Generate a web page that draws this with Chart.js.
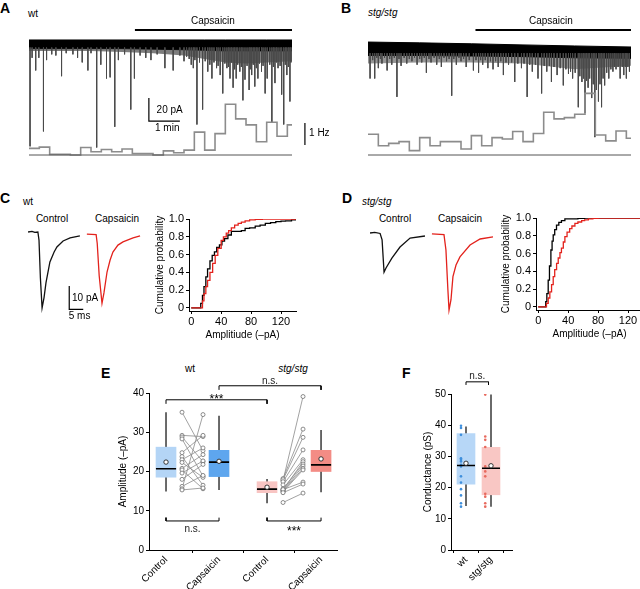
<!DOCTYPE html>
<html><head><meta charset="utf-8">
<script src="https://cdn.jsdelivr.net/npm/chart.js@4.4.1/dist/chart.umd.min.js"></script>
<style>
html,body{margin:0;padding:0;background:#fff;}
#fig{position:relative;width:640px;height:589px;overflow:hidden;background:#fff;font-family:"Liberation Sans",Arial,Helvetica,sans-serif;}
.t{position:absolute;white-space:nowrap;color:#000;font-size:10px;line-height:1;}
.L{font-weight:bold;font-size:14px;}
.cx{width:100px;text-align:center;}
.i{font-style:italic;}
</style></head><body><div id="fig">
<div class="t L" style="left:0px;top:1px">A</div>
<div class="t" style="left:28px;top:9px">wt</div>
<div class="t L" style="left:341px;top:1px">B</div>
<div class="t i" style="left:368px;top:8px">stg/stg</div>
<div class="t L" style="left:0px;top:191px">C</div>
<div class="t" style="left:23px;top:197px">wt</div>
<div class="t L" style="left:342px;top:191px">D</div>
<div class="t i" style="left:362px;top:197px">stg/stg</div>
<div class="t cx" style="left:2px;top:214px">Control</div>
<div class="t cx" style="left:67px;top:214px">Capsaicin</div>
<div class="t cx" style="left:345px;top:214px">Control</div>
<div class="t cx" style="left:410px;top:214px">Capsaicin</div>
<div class="t L" style="left:101px;top:366px">E</div>
<div class="t cx" style="left:140px;top:364px">wt</div>
<div class="t cx i" style="left:243px;top:364px">stg/stg</div>
<div class="t L" style="left:402px;top:366px">F</div>
</div>
<script>
// ================= DATA =================
// Panel A / B: event frequency in 20-s bins (Hz)
const RATE_BIN_START_S = [0,20,40,60,80,100,120,140,160,180,200,220,240,260,280,300,320,340,360,380,400,420,440,460,480,500];
const A_RATE_HZ = [0.30,0.36,0.03,0.03,0.0,0.34,0.15,0.25,0.15,0.27,0.07,0.07,0.0,0.19,0.10,0.22,1.04,0.22,0.97,2.31,1.64,1.37,0.60,1.49,0.85,1.37];
const B_RATE_HZ = [0.94,0.42,0.53,0.61,0.20,0.79,0.42,0.61,0.61,0.27,0.88,0.42,0.79,0.73,1.07,0.61,0.98,1.94,1.64,1.70,1.85,2.80,0.91,0.64,1.09,0.76];
const RECORD_END_S = 509;
const A_CAPS_START_S = 205;
const B_CAPS_START_S = 208;
// Panel A / B: events [time s, amplitude pA]
const A_EVENTS = [[2,89],[6,12],[13,23],[19,12],[28,76],[34,14],[44,9],[52,10],[63,28],[72,8],[85,9],[94,12],[103,16],[114,23],[120,8],[131,90],[139,18],[150,30],[157,29],[166,72],[173,14],[185,9],[197,57],[204,30],[215,10],[226,12],[236,14],[248,9],[263,21],[279,23],[292,10],[300,15],[305,11],[310,13],[314,18],[318,21],[321,14],[325,70],[330,16],[336,57],[341,15],[346,24],[350,18],[354,30],[358,16],[363,21],[366,19],[370,27],[375,43],[379,17],[383,21],[386,20],[389,30],[392,16],[395,38],[398,22],[401,30],[404,18],[408,24],[411,20],[414,49],[418,31],[422,19],[426,40],[428,22],[431,27],[434,18],[437,37],[440,21],[443,30],[446,17],[450,24],[453,19],[457,43],[461,30],[466,18],[470,68],[473,20],[476,34],[479,16],[482,21],[486,19],[489,44],[493,70],[496,18],[499,27],[502,20],[505,50],[507,16]];
const B_EVENTS = [[4,30],[9,14],[13,30],[17,12],[20,21],[24,13],[27,17],[32,12],[37,23],[42,13],[46,18],[51,12],[56,46],[60,13],[64,19],[70,12],[75,17],[80,13],[85,15],[90,12],[95,18],[100,13],[104,16],[109,12],[113,25],[118,13],[122,16],[128,12],[133,18],[138,13],[142,20],[147,12],[152,15],[157,13],[162,45],[166,13],[171,18],[176,12],[180,15],[185,13],[190,20],[196,14],[204,23],[209,14],[214,25],[218,14],[222,18],[227,14],[232,21],[237,15],[242,22],[247,15],[252,20],[257,15],[262,27],[267,16],[272,18],[278,16],[284,33],[290,17],[297,21],[302,17],[308,46],[313,18],[318,24],[324,18],[329,30],[336,43],[341,19],[346,24],[351,19],[355,33],[360,20],[366,27],[372,21],[378,36],[383,22],[388,26],[392,24],[396,30],[401,25],[407,55],[410,28],[414,33],[417,30],[420,60],[423,32],[426,38],[429,30],[433,47],[436,35],[439,81],[442,40],[446,50],[449,35],[452,55],[455,30],[458,36],[462,25],[466,30],[470,22],[474,24],[477,20],[480,22],[484,20],[488,30],[492,20],[495,27],[498,20],[500,30],[503,20],[506,24]];
// Noise band envelopes (pA)
const A_BAND_T = [0,60,120,180,240,300,340,380,420,460,509];
const A_BAND_TOP = [3.5,3.5,3.5,3.5,3.5,3.5,3.5,3.5,3.5,3.5,3.5];
const A_BAND_BOT = [-4,-4,-4,-4,-4.5,-5,-5.5,-6,-6,-6,-6];
const A_DENSE_BOT = [-6,-6,-6,-7,-8,-10,-13,-16,-17,-16,-15];
const B_BAND_T = [0,100,200,300,400,509];
const B_BAND_TOP = [1.7,1.0,0.2,-0.8,-1.7,-2.6];
const B_BAND_BOT = [-10,-10,-10.5,-11,-12,-12.5];
const B_DENSE_BOT = [-17,-16,-16,-17,-22,-19];
// Panel C / D: average EPSCs [ms, pA]
const C_CTRL_TRACE = [[1.1,0],[2.5,0.3],[3.5,-0.2],[4.6,0],[5.0,-3.5],[5.5,-20],[6.1,-33],[6.8,-28.5],[7.5,-22],[8.9,-13],[10.4,-8.7],[11.4,-6.5],[13.6,-3.9],[16.1,-2.6],[19.6,-1.7]];
const C_CAPS_TRACE = [[22.1,-0.9],[25.4,-1.1],[25.8,-5],[26.5,-19],[27.5,-31],[28.2,-26.5],[29.3,-17.4],[30.4,-12.2],[31.4,-8.7],[33.2,-5.7],[35,-4.3],[38.6,-2.6],[41.1,-1.7]];
const D_CTRL_TRACE = [[1.8,0],[3.5,0.3],[5.4,-0.2],[6.1,-3],[6.8,-17],[7.5,-15.2],[9.6,-10.9],[12.5,-6.1],[16.1,-2.2],[21.4,-1.3]];
const D_CAPS_TRACE = [[23.9,-0.4],[28.2,-0.7],[28.9,-7.4],[29.6,-24.8],[30,-33.5],[30.7,-29],[31.4,-19],[32.5,-13.9],[33.9,-10.4],[37.5,-5.2],[41.1,-2.6],[45.7,-1.7]];
// Cumulative distributions [amplitude -pA, probability]
const C_CTRL_CDF = [[0,0],[10.5,0],[12.7,0.05],[15,0.14],[17,0.24],[19.5,0.35],[21.8,0.44],[25,0.53],[28,0.59],[31,0.63],[34,0.68],[37.7,0.71],[41,0.75],[44.5,0.78],[49,0.82],[53.6,0.86],[58,0.86],[67,0.87],[72,0.895],[78,0.9],[85.5,0.92],[92,0.93],[99,0.95],[106,0.96],[113,0.97],[120,0.975],[126,0.98],[134,0.99],[140,1.0]];
const C_CAPS_CDF = [[0,0],[12.7,0],[15,0.08],[17,0.16],[19.5,0.24],[21.8,0.31],[25,0.4],[28.6,0.5],[32,0.59],[35.5,0.67],[40,0.76],[43,0.8],[46.8,0.84],[50,0.87],[53.6,0.9],[58,0.93],[62.7,0.95],[67,0.965],[72,0.98],[78,0.99],[85.5,0.996],[95,1.0],[140,1.0]];
const D_CTRL_CDF = [[0,0],[8,0],[10,0.06],[11.5,0.15],[13.3,0.3],[15,0.46],[16.9,0.64],[18.5,0.74],[20,0.81],[22,0.87],[24.4,0.92],[27.5,0.95],[31,0.97],[35.6,0.99],[53,0.995],[62,1.0],[140,1.0]];
const D_CAPS_CDF = [[0,0],[8.9,0],[11,0.04],[13.3,0.1],[15.5,0.17],[17.8,0.25],[20,0.34],[22,0.42],[24.5,0.49],[26.7,0.55],[29,0.61],[31,0.66],[33.5,0.73],[35.6,0.79],[38.5,0.84],[42,0.88],[45,0.91],[49,0.94],[53,0.955],[58,0.97],[62,0.98],[67,0.99],[73,0.995],[80,1.0],[140,1.0]];
const CUM_X_TICKS = [0,40,80,120];
const CUM_Y_TICKS = [0,0.2,0.4,0.6,0.8,1.0];
// Panel E: amplitude (-pA) box statistics for wt Control, wt Capsaicin, stg Control, stg Capsaicin
const E_X_LABELS = ['Control','Capsaicin','Control','Capsaicin'];
const E_WHISK_LO = [14.9,15.3,11.9,14.7];
const E_Q1 = [18.55,18.7,14.6,20.0];
const E_MEDIAN = [20.7,22.4,15.5,21.7];
const E_MEAN = [22.4,22.6,16.0,23.2];
const E_Q3 = [26.2,25.4,17.4,25.4];
const E_WHISK_HI = [35.1,34.2,18.1,30.6];
const E_WT_CTRL = [35.1,29.2,28.8,28.3,24.8,23.8,23.0,22.3,20.8,20.4,19.6,18.0,16.2,15.6,15.3];
const E_WT_CAPS = [25.3,28.9,22.5,18.8,29.2,16.5,26.0,18.5,24.3,15.6,22.7,21.8,19.0,34.5,15.8];
const E_STG_CTRL = [17.7,18.2,17.9,17.4,16.6,15.3,15.6,15.2,15.0,14.8,15.4,14.6,12.1];
const E_STG_CAPS = [39.1,30.8,28.7,25.5,23.0,22.5,21.9,21.4,20.8,20.4,17.3,16.8,14.5];
const E_Y_TICKS = [0,10,20,30,40];
// Panel F: conductance (pS)
const F_X_LABELS = ['wt','stg/stg'];
const F_WHISK_LO = [14.1,13.9];
const F_Q1 = [21.1,17.7];
const F_MEDIAN = [27.1,26.2];
const F_MEAN = [27.8,27.0];
const F_Q3 = [37.3,32.9];
const F_WHISK_HI = [39.6,49.8];
const F_WT_POINTS = [39.8,39.1,36.9,29.4,28.9,28.4,27.3,26.8,23.6,21.6,19.5,17.5,15.0,13.9];
const F_STG_POINTS = [49.8,36.4,35.3,33.0,26.8,25.2,23.6,18.0,17.1,15.0,13.9];
const F_Y_TICKS = [0,10,20,30,40,50];

// ================= LAYOUT / STYLE =================
const FONT = '"Liberation Sans", Arial, Helvetica, sans-serif';
Chart.defaults.font.family = FONT;
Chart.defaults.font.size = 10;
Chart.defaults.color = '#000';
Chart.defaults.animation = false;
Chart.defaults.responsive = false;
Chart.defaults.plugins.legend.display = false;
Chart.defaults.plugins.tooltip.enabled = false;

function mkCanvas(left, top, w, h){
  const c = document.createElement('canvas');
  c.width = w; c.height = h;
  c.style.cssText = 'position:absolute;left:'+left+'px;top:'+top+'px;width:'+w+'px;height:'+h+'px;';
  document.getElementById('fig').appendChild(c);
  return c;
}
function mkText(items){
  return { id:'txt', afterDatasetsDraw(chart){
    const ctx = chart.ctx;
    items.forEach(it=>{
      const xs = chart.scales[it.xa||'x'], ys = chart.scales[it.ya||'y'];
      ctx.save();
      ctx.font = (it.style||'') + ' ' + (it.size||10) + 'px ' + FONT;
      ctx.fillStyle = it.color||'#000';
      ctx.textAlign = it.align||'center';
      ctx.textBaseline = 'alphabetic';
      ctx.fillText(it.t, xs.getPixelForValue(it.x), ys.getPixelForValue(it.y));
      ctx.restore();
    });
  }};
}
function pts(arr){ return arr.map(p=>({x:p[0],y:p[1]})); }
function segs(list){
  const out=[];
  list.forEach(s=>{ s.forEach(p=>out.push({x:p[0],y:p[1]})); out.push({x:s[s.length-1][0],y:null}); });
  return out;
}
function line(data, color, width, extra){
  return Object.assign({type:'line', data:data, borderColor:color, borderWidth:width, pointRadius:0, fill:false, tension:0, spanGaps:false}, extra||{});
}
function hidden(min,max){ return {type:'linear', display:false, min:min, max:max}; }

// ---------- Panels A & B ----------
function tracePanel(canvas, padding, events, rates, bandT, bandTop, bandBot, denseBot, capsStart, spikeStart, denseAlpha, texts, extras){
  const ds = [
    line(bandT.map((t,i)=>({x:t,y:bandTop[i]})), '#000', 1, {order:20}),
    line(bandT.map((t,i)=>({x:t,y:bandBot[i]})), '#000', 1, {order:20, fill:'-1', backgroundColor:'#000'}),
    line(bandT.map((t,i)=>({x:t,y:denseBot[i]})), 'rgba(0,0,0,0)', 1, {order:19, fill:'-1', backgroundColor:'rgba(20,20,20,'+denseAlpha+')'}),
    line(events.flatMap(e=>[{x:e[0],y:spikeStart},{x:e[0],y:-e[1]},{x:e[0],y:null}]), '#4a4a4a', 1, {order:15}),
    line(RATE_BIN_START_S.map((t,i)=>({x:t,y:rates[i]})).concat([{x:RECORD_END_S,y:rates[rates.length-1]}]), '#8c8c8c', 1.6, {order:10, yAxisID:'y2', stepped:'before'}),
    line([{x:0,y:0},{x:RECORD_END_S,y:0}], '#555', 1, {order:9, yAxisID:'y2'}),
    line([{x:capsStart,y:12.2},{x:RECORD_END_S,y:12.2}], '#000', 2, {order:1, clip:false})
  ].concat(extras||[]);
  return new Chart(canvas, {
    type:'line', data:{datasets:ds},
    options:{ layout:{padding:padding},
      scales:{ x:hidden(0,RECORD_END_S), y:hidden(-100.87,16.52), y2:hidden(-0.227,5.909) } },
    plugins:[mkText(texts)]
  });
}
tracePanel(mkCanvas(0,0,340,170), {left:29,right:48,top:25,bottom:10}, A_EVENTS, A_RATE_HZ,
  A_BAND_T, A_BAND_TOP, A_BAND_BOT, A_DENSE_BOT, A_CAPS_START_S, -3, 0.55,
  [{t:'Capsaicin', x:356, y:17.8},
   {t:'20 pA', x:247, y:-60.3, align:'left'},
   {t:'1 min', x:267.5, y:-75.4},
   {t:'1 Hz', x:542, y:0.86, ya:'y2', align:'left'}],
  [ line([{x:232,y:-47},{x:232,y:-67},{x:292,y:-67}], '#000', 1.2, {order:1}),
    line([{x:534,y:0.45},{x:534,y:1.45}], '#000', 1.2, {order:1, yAxisID:'y2', clip:false}) ]);
tracePanel(mkCanvas(340,0,300,170), {left:28,right:9,top:25,bottom:10}, B_EVENTS, B_RATE_HZ,
  B_BAND_T, B_BAND_TOP, B_BAND_BOT, B_DENSE_BOT, B_CAPS_START_S, -8, 0.45,
  [{t:'Capsaicin', x:354, y:17.8}], []);

// ---------- Panels C & D: traces ----------
function epscPanel(canvas, ctrl, caps, yMin, yMax, xMax, bar, texts){
  const ds = [
    line(pts(ctrl), '#111', 1.3, {clip:false}),
    line(pts(caps), '#e3221c', 1.3, {clip:false})
  ];
  if (bar) ds.push(line(bar, '#000', 1.2, {clip:false}));
  return new Chart(canvas, {type:'line', data:{datasets:ds},
    options:{layout:{padding:0}, scales:{x:hidden(0,xMax), y:hidden(yMin,yMax)}},
    plugins:[mkText(texts)]});
}
epscPanel(mkCanvas(25,225,120,100), C_CTRL_TRACE, C_CAPS_TRACE, -40.43, 3.04, 42.86,
  [{x:15.8,y:-23.5},{x:15.8,y:-33.6},{x:20.8,y:-33.6}],
  [{t:'10 pA', x:16.8, y:-29.9, align:'left'},{t:'5 ms', x:19.5, y:-37.8}]);
epscPanel(mkCanvas(365,225,135,100), D_CTRL_TRACE, D_CAPS_TRACE, -40, 3.48, 48.2, null, []);

// ---------- Panels C & D: cumulative ----------
function axisStyle(){ return {grid:{drawOnChartArea:false, drawTicks:true, tickLength:3, color:'#000', lineWidth:1}, border:{display:true, color:'#000', width:1}}; }
function cumPanel(canvas, padding, yW, ctrl, caps){
  return new Chart(canvas, {type:'line',
    data:{datasets:[
      line(pts(caps), '#e3221c', 1.3, {stepped:'before'}),
      line(pts(ctrl), '#000', 1.3, {stepped:'before'})
    ]},
    options:{layout:{padding:padding},
      scales:{
        x: Object.assign(axisStyle(), {type:'linear', min:-3, max:140,
          afterBuildTicks:s=>{s.ticks=CUM_X_TICKS.map(v=>({value:v}));},
          ticks:{font:{size:11}, padding:1, maxRotation:0, autoSkip:false, color:'#000'},
          title:{display:true, text:'Amplitiude (–pA)', font:{size:10}, padding:{top:4,bottom:4}},
          afterFit:s=>{s.height=34;}}),
        y: Object.assign(axisStyle(), {type:'linear', min:-0.035, max:1,
          afterBuildTicks:s=>{s.ticks=CUM_Y_TICKS.map(v=>({value:v}));},
          ticks:{font:{size:11}, padding:2, color:'#000', callback:v=> v===0?'0':v.toFixed(1)},
          title:{display:true, text:'Cumulative probability', font:{size:10}, padding:{top:4,bottom:0}},
          afterFit:s=>{s.width=yW;}})
      }}});
}
cumPanel(mkCanvas(150,200,155,145), {left:0,right:9,top:19,bottom:0}, 39, C_CTRL_CDF, C_CAPS_CDF);
cumPanel(mkCanvas(496,199,150,145), {left:0,right:3,top:19,bottom:0}, 40, D_CTRL_CDF, D_CAPS_CDF);

// ---------- Panel E ----------
const E_POS = [1, 2, 2.906, 3.925];
const E_PAIR_X = [[1.302,1.698],[3.208,3.585]];
const E_HALF = 0.19;
const E_COLORS = ['#b4d5f6','#5ea6ee','#f8c5c3','#f38c85'];
function boxDatasets(pos, lo, q1, med, mean, q3, hi, colors, thick, half){
  return [
    line(segs(pos.map((x,i)=>[[x,lo[i]],[x,hi[i]]])), '#3a3a3a', 1.5, {order:30}),
    {type:'bar', data:pos.map((x,i)=>({x:x,y:[q1[i],q3[i]]})), backgroundColor:colors, barThickness:thick, grouped:false, order:29, borderWidth:0},
    line(segs(pos.map((x,i)=>[[x-half,med[i]],[x+half,med[i]]])), '#000', 1.6, {order:3}),
    line(pos.map((x,i)=>({x:x,y:mean[i]})), '#000', 0, {order:2, showLine:false, pointRadius:2.2, pointBackgroundColor:'#fff', pointBorderColor:'#222', pointBorderWidth:0.9})
  ];
}
function pairDs(xs, a, b){
  return line(segs(a.map((v,i)=>[[xs[0],v],[xs[1],b[i]]])), '#8a8a8a', 0.8,
    {order:5, pointRadius:2, pointBackgroundColor:'#fff', pointBorderColor:'#707070', pointBorderWidth:0.8});
}
function bracket(x1, x2, y, yEnd){ return [[x1,yEnd],[x1,y],[x2,y],[x2,yEnd]]; }
function xAxisCat(min, max, pos, labels, h){
  return Object.assign(axisStyle(), {type:'linear', min:min, max:max, offset:false,
    afterBuildTicks:s=>{s.ticks=pos.map(v=>({value:v}));},
    ticks:{autoSkip:false, minRotation:45, maxRotation:45, padding:1, font:{size:10}, color:'#000', callback:(v,i)=>labels[i]},
    afterFit:s=>{s.height=h;}});
}
function yAxisVal(min, max, ticks, title, w){
  return Object.assign(axisStyle(), {type:'linear', min:min, max:max,
    afterBuildTicks:s=>{s.ticks=ticks.map(v=>({value:v}));},
    ticks:{padding:2, font:{size:10}, color:'#000'},
    title:{display:true, text:title, font:{size:10}, padding:{top:4,bottom:0}},
    afterFit:s=>{s.width=w;}});
}
const eDs = boxDatasets(E_POS, E_WHISK_LO, E_Q1, E_MEDIAN, E_MEAN, E_Q3, E_WHISK_HI, E_COLORS, 20, E_HALF)
  .concat([
    pairDs(E_PAIR_X[0], E_WT_CTRL, E_WT_CAPS),
    pairDs(E_PAIR_X[1], E_STG_CTRL, E_STG_CAPS),
    line(segs([bracket(E_POS[0],E_POS[2],38.27,37.24), bracket(E_POS[1],E_POS[3],41.84,40.8),
               bracket(E_POS[0],E_POS[1],7.4,8.25), bracket(E_POS[2],E_POS[3],7.4,8.25)]), '#000', 1, {order:1, clip:false})
  ]);
new Chart(mkCanvas(113,360,240,229), {type:'bar', data:{datasets:eDs},
  options:{layout:{padding:{left:0,right:16,top:33,bottom:0}},
    scales:{ x:xAxisCat(0.679,4.226,E_POS,E_X_LABELS,39), y:yAxisVal(0,40,E_Y_TICKS,'Amplitude (–pA)',36) }},
  plugins:[mkText([
    {t:'***', x:1.953, y:37.5, size:12},
    {t:'n.s.', x:2.9625, y:42.3, color:'#222'},
    {t:'n.s.', x:1.5, y:4.67, color:'#222'},
    {t:'***', x:3.415, y:3.8, size:12}
  ])]});

// ---------- Panel F ----------
const F_POS = [1, 2];
const F_COLORS = ['#b7d7f7','#f9c7c4'];
const F_DOT_X = [0.8, 1.77];
const fDs = boxDatasets(F_POS, F_WHISK_LO, F_Q1, F_MEDIAN, F_MEAN, F_Q3, F_WHISK_HI, F_COLORS, 18, 0.36)
  .concat([
    line(F_WT_POINTS.map(v=>({x:F_DOT_X[0],y:v})), '#000', 0, {order:4, showLine:false, pointRadius:1.3, pointBackgroundColor:'#3f8fdc', pointBorderWidth:0}),
    line(F_STG_POINTS.map(v=>({x:F_DOT_X[1],y:v})), '#000', 0, {order:4, showLine:false, pointRadius:1.3, pointBackgroundColor:'#e86a5e', pointBorderWidth:0}),
    line(segs([bracket(1,1.9,53.9,52.9)]), '#000', 1, {order:1, clip:false})
  ]);
new Chart(mkCanvas(418,360,110,229), {type:'bar', data:{datasets:fDs},
  options:{layout:{padding:{left:0,right:16,top:34,bottom:0}},
    scales:{ x:xAxisCat(0.4,2.84,F_POS,F_X_LABELS,39), y:yAxisVal(0,50,F_Y_TICKS,'Conductance (pS)',33) }},
  plugins:[mkText([{t:'n.s.', x:1.45, y:54.7, color:'#222'}])]});
</script>
</body></html>
